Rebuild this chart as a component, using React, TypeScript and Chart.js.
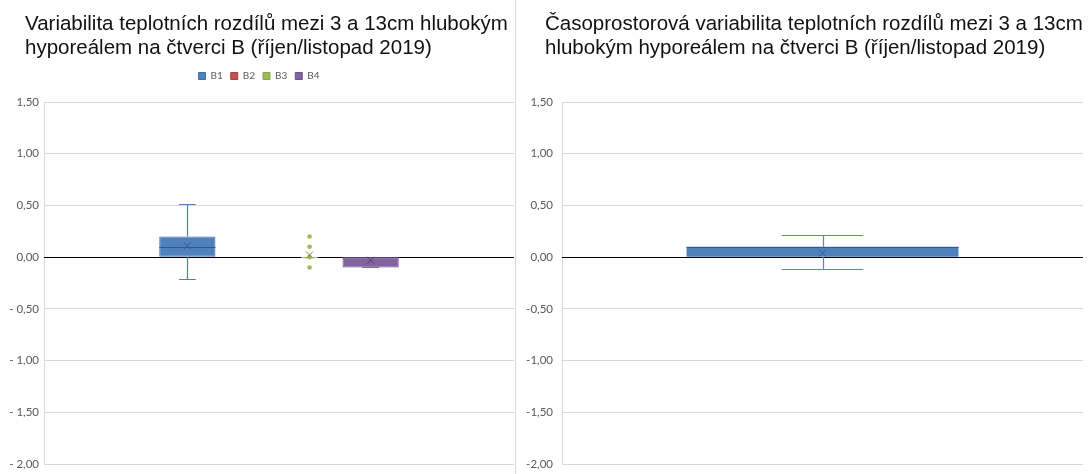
import React, { useEffect, useRef } from 'react';
import { Chart, registerables, layouts } from 'chart.js';

Chart.register(...registerables);

// ---------- data ----------
const leftTitle = [
  'Variabilita teplotních rozdílů mezi 3 a 13cm hlubokým',
  'hyporeálem na čtverci B (říjen/listopad 2019)',
];
const rightTitle = [
  'Časoprostorová variabilita teplotních rozdílů mezi 3 a 13cm',
  'hlubokým hyporeálem na čtverci B (říjen/listopad 2019)',
];

const boxCategory = [''];
const boxSeries = ['B1', 'B2', 'B3', 'B4'];
const boxQ1: (number | null)[] = [0.0, null, 0.0, -0.1];
const boxQ3: (number | null)[] = [0.2, null, 0.0, 0.0];
const boxMedian: (number | null)[] = [0.1, null, 0.0, 0.0];
const boxMin: (number | null)[] = [-0.21, null, 0.0, -0.1];
const boxMax: (number | null)[] = [0.51, null, 0.0, 0.0];
const boxMean: (number | null)[] = [0.11, null, 0.02, -0.03];
const boxOutliers: number[][] = [[], [], [0.2, 0.1, 0.0, -0.1], []];

const rangeCategory = [''];
const rangeSeries = ['B'];
const rangeQ1 = [0.0];
const rangeQ3 = [0.1];
const rangeMedian = [0.1];
const rangeMin = [-0.11];
const rangeMax = [0.21];
const rangeMean = [0.04];

const yMin = -2.0;
const yMax = 1.5;
const yStep = 0.5;

// ---------- styles ----------
const seriesFill = ['#4F81BD', '#C0504D', '#9BBB59', '#8064A2'];
const seriesLine = ['#3F6FAA', '#A9403D', '#86A54A', '#6B5089'];
const seriesDark = ['#2F5A8F', '#8E2F2C', '#6F8A3A', '#553D73'];
const gridColor = '#D9D9D9';
const tickColor = '#595959';
const tickFont = { family: "Lato, 'DejaVu Sans', sans-serif", size: 11.5 };

const fmtLeft = (v: number) => (v < -1e-9 ? '- ' : '') + Math.abs(v).toFixed(2).replace('.', ',');
const fmtRight = (v: number) => (Math.abs(v) < 1e-9 ? 0 : v).toFixed(2).replace('.', ',');

// draws zero line, whiskers, medians, means and outliers using the chart's scales
const boxPlugin = {
  id: 'boxWhiskers',
  afterDatasetsDraw(chart: any) {
    const { ctx, chartArea, scales } = chart;
    const ys = scales.y;
    const snap = (v: number) => Math.round(v) + 0.5;
    ctx.save();
    const y0 = snap(ys.getPixelForValue(0));
    ctx.strokeStyle = '#000';
    ctx.lineWidth = 1;
    ctx.beginPath();
    ctx.moveTo(chartArea.left, y0);
    ctx.lineTo(chartArea.right, y0);
    ctx.stroke();

    chart.data.datasets.forEach((ds: any, di: number) => {
      const meta = chart.getDatasetMeta(di);
      meta.data.forEach((el: any, i: number) => {
        const st = ds.stats && ds.stats[i];
        if (!st) return;
        const { x, width } = el.getProps(['x', 'width'], true);
        const cx = snap(x);
        const cap = width * 0.3;
        const dark = ds.markColor;
        ctx.lineWidth = 1.2;
        ctx.strokeStyle = ds.whiskerColor;
        const py = (v: number) => ys.getPixelForValue(v);
        // whiskers
        ctx.beginPath();
        ctx.moveTo(cx, py(st.q3));
        ctx.lineTo(cx, snap(py(st.max)));
        ctx.moveTo(cx, py(st.q1));
        ctx.lineTo(cx, snap(py(st.min)));
        ctx.moveTo(x - cap / 2, snap(py(st.max)));
        ctx.lineTo(x + cap / 2, snap(py(st.max)));
        ctx.moveTo(x - cap / 2, snap(py(st.min)));
        ctx.lineTo(x + cap / 2, snap(py(st.min)));
        ctx.stroke();
        // median
        if (st.q3 !== st.q1) {
          ctx.strokeStyle = dark;
          ctx.lineWidth = 1;
          ctx.beginPath();
          ctx.moveTo(x - width / 2, snap(py(st.median)));
          ctx.lineTo(x + width / 2, snap(py(st.median)));
          ctx.stroke();
        }
        // outliers
        ctx.fillStyle = ds.backgroundColor;
        st.outliers.forEach((o: number) => {
          ctx.beginPath();
          ctx.arc(x, py(o), 2.3, 0, Math.PI * 2);
          ctx.fill();
        });
        // mean marker (x)
        const my = py(st.mean);
        const r = 3.5;
        ctx.strokeStyle = dark;
        ctx.lineWidth = 1;
        ctx.beginPath();
        ctx.moveTo(x - r, my - r);
        ctx.lineTo(x + r, my + r);
        ctx.moveTo(x - r, my + r);
        ctx.lineTo(x + r, my - r);
        ctx.stroke();
      });
    });
    ctx.restore();
  },
};

// empty layout box giving extra room between legend and plot area
const makeSpacer = (size: number) => ({
  id: 'legendSpacer',
  beforeInit(chart: any) {
    layouts.addBox(chart, {
      position: 'top',
      weight: 1,
      fullSize: true,
      options: {},
      left: 0, top: 0, right: 0, bottom: 0, width: 0, height: 0,
      isHorizontal() { return true; },
      update(maxWidth: number) { this.width = maxWidth; this.height = size; },
      draw() {},
    } as any);
  },
});

const yScale = (fmt: (v: number) => string, axisWidth: number, pad: number) => ({
  min: yMin,
  max: yMax,
  ticks: { stepSize: yStep, callback: (v: any) => fmt(Number(v)), color: tickColor, font: tickFont, padding: pad },
  grid: { color: gridColor, drawTicks: false, lineWidth: 1 },
  border: { display: true, color: gridColor },
  afterFit: (s: any) => {
    s.width = axisWidth;
    s.paddingTop = 0;
    s.paddingBottom = 0;
  },
});

const titleStyle: React.CSSProperties = {
  position: 'absolute',
  top: 11,
  margin: 0,
  fontFamily: "'Liberation Sans', Arial, sans-serif",
  fontSize: 20.5,
  lineHeight: '23.5px',
  color: '#111',
  whiteSpace: 'nowrap',
  fontWeight: 'normal',
};

function LeftChart() {
  const ref = useRef<HTMLCanvasElement>(null);
  useEffect(() => {
    const datasets = boxSeries.map((name, i) => ({
      label: name,
      data: [boxQ1[i] == null ? null : [boxQ1[i], boxQ3[i]]],
      backgroundColor: seriesFill[i],
      borderColor: seriesLine[i],
      borderWidth: 1,
      borderSkipped: false,
      whiskerColor: seriesFill[i],
      markColor: seriesDark[i],
      stats: [
        boxQ1[i] == null
          ? null
          : { q1: boxQ1[i], q3: boxQ3[i], median: boxMedian[i], min: boxMin[i], max: boxMax[i], mean: boxMean[i], outliers: boxOutliers[i] },
      ],
    }));
    const chart = new Chart(ref.current!, {
      type: 'bar',
      data: { labels: boxCategory, datasets: datasets as any },
      options: {
        animation: false,
        responsive: false,
        devicePixelRatio: 1,
        categoryPercentage: 0.52,
        barPercentage: 0.92,
        layout: { padding: { left: 4, right: 1, top: 63, bottom: 10 } },
        plugins: {
          title: { display: false },
          legend: {
            display: true,
            position: 'top',
            labels: { boxWidth: 7, boxHeight: 7, padding: 8, color: tickColor, font: { family: "Lato, 'DejaVu Sans', sans-serif", size: 10 } },
          },
          tooltip: { enabled: false },
        },
        scales: {
          x: { display: false },
          y: yScale(fmtLeft, 40, 5) as any,
        },
      },
      plugins: [boxPlugin, makeSpacer(11)],
    });
    return () => chart.destroy();
  }, []);
  return (
    <div style={{ position: 'absolute', left: 0, top: 0, width: 515, height: 474 }}>
      <canvas ref={ref} width={515} height={474} style={{ position: 'absolute', left: 0, top: 0 }} />
      <h2 style={{ ...titleStyle, left: 25 }}>
        {leftTitle.map((t, i) => (
          <div key={i}>{t}</div>
        ))}
      </h2>
    </div>
  );
}

function RightChart() {
  const ref = useRef<HTMLCanvasElement>(null);
  useEffect(() => {
    const datasets = rangeSeries.map((name) => ({
      label: name,
      data: rangeCategory.map((_, k) => [rangeQ1[k], rangeQ3[k]]),
      backgroundColor: seriesFill[0],
      borderColor: seriesFill[0],
      borderWidth: 0,
      whiskerColor: '#5E86B8',
      markColor: seriesDark[0],
      stats: rangeCategory.map((_, k) => ({
        q1: rangeQ1[k], q3: rangeQ3[k], median: rangeMedian[k], min: rangeMin[k], max: rangeMax[k], mean: rangeMean[k], outliers: [],
      })),
    }));
    const chart = new Chart(ref.current!, {
      type: 'bar',
      data: { labels: rangeCategory, datasets: datasets as any },
      options: {
        animation: false,
        responsive: false,
        devicePixelRatio: 1,
        categoryPercentage: 1,
        barPercentage: 0.522,
        layout: { padding: { left: 4, right: 5, top: 102, bottom: 10 } },
        plugins: {
          title: { display: false },
          legend: { display: false },
          tooltip: { enabled: false },
        },
        scales: {
          x: { display: false },
          y: yScale(fmtRight, 42, 9) as any,
        },
      },
      plugins: [boxPlugin],
    });
    return () => chart.destroy();
  }, []);
  return (
    <div style={{ position: 'absolute', left: 516, top: 0, width: 572, height: 474 }}>
      <canvas ref={ref} width={572} height={474} style={{ position: 'absolute', left: 0, top: 0 }} />
      <h2 style={{ ...titleStyle, left: 29 }}>
        {rightTitle.map((t, i) => (
          <div key={i}>{t}</div>
        ))}
      </h2>
    </div>
  );
}

export default function App() {
  return (
    <div style={{ position: 'absolute', left: 0, top: 0, width: 1088, height: 474, background: '#fff', overflow: 'hidden' }}>
      <LeftChart />
      <div style={{ position: 'absolute', left: 515, top: 0, width: 1, height: 474, background: gridColor }} />
      <RightChart />
    </div>
  );
}
